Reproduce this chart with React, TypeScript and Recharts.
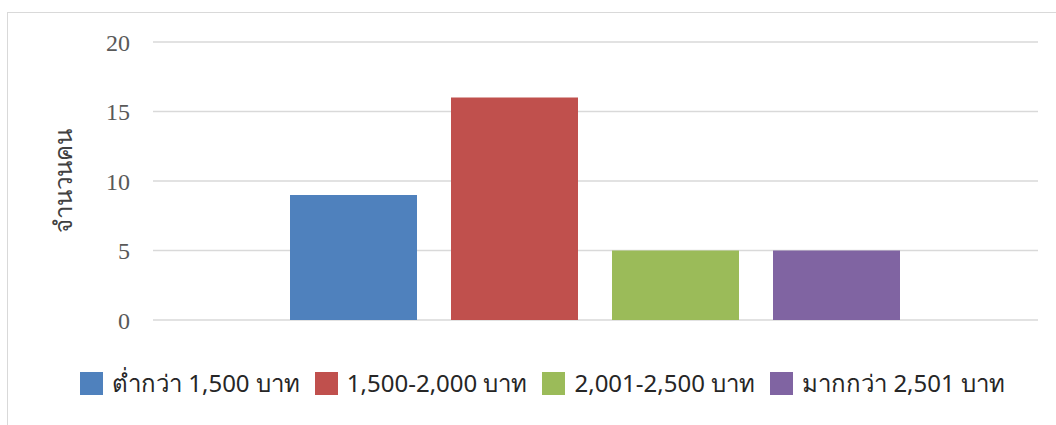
import React from "react";
import { BarChart, Bar, XAxis, YAxis, CartesianGrid, Legend } from "recharts";

const categories = ["จำนวนคน"];
const seriesNames = ["ต่ำกว่า 1,500 บาท", "1,500-2,000 บาท", "2,001-2,500 บาท", "มากกว่า 2,501 บาท"];
const seriesValues = [9, 16, 5, 5];
const seriesColors = ["#4F81BD", "#C0504D", "#9BBB59", "#8064A2"];
const yTicks = [0, 5, 10, 15, 20];
const yLabel = "จำนวนคน";

const data = categories.map((c) => {
  const row: Record<string, string | number> = { name: c };
  seriesNames.forEach((s, i) => {
    row["s" + i] = seriesValues[i];
  });
  return row;
});

const sansFont = "'Noto Sans', 'DejaVu Sans', sans-serif";

const LegendContent = () => (
  <div
    style={{
      display: "flex",
      alignItems: "center",
      paddingLeft: 80,
      fontFamily: sansFont,
      fontSize: 24,
      fontWeight: 400,
      color: "#262626",
      whiteSpace: "nowrap",
      height: 34,
    }}
  >
    {seriesNames.map((s, i) => (
      <div key={s} style={{ display: "flex", alignItems: "center", marginRight: 15 }}>
        <span style={{ display: "inline-block", width: 23, height: 23, background: seriesColors[i], marginRight: 9 }} />
        <span>{s}</span>
      </div>
    ))}
  </div>
);

const YLabel = (props: any) => {
  const vb = props.viewBox || {};
  const cx = vb.x - 11;
  const cy = vb.y + vb.height / 2;
  return (
    <text
      x={cx}
      y={cy}
      transform={`rotate(-90, ${cx}, ${cy})`}
      textAnchor="middle"
      dominantBaseline="central"
      fontFamily={sansFont}
      fontSize={24}
      fill="#404040"
    >
      {yLabel}
    </text>
  );
};

export default function App() {
  return (
    <div style={{ position: "absolute", left: 0, top: 0, width: 1056, height: 425, overflow: "hidden", background: "#fff" }}>
      <div
        style={{
          position: "absolute",
          left: 7,
          top: 12,
          width: 1200,
          height: 600,
          border: "1px solid #d9d9d9",
        }}
      />
      <BarChart
        width={1056}
        height={425}
        data={data}
        margin={{ top: 42, right: 18, bottom: 71, left: 73 }}
        barCategoryGap={137}
        barGap={34}
      >
        <CartesianGrid vertical={false} stroke="#d9d9d9" strokeWidth={1.5} />
        <XAxis dataKey="name" hide />
        <YAxis
          width={80}
          domain={[0, 20]}
          ticks={yTicks}
          axisLine={false}
          tickLine={false}
          tickMargin={17}
          tick={{ fontFamily: "'Liberation Serif', serif", fontSize: 24, fill: "#595959" }}
          label={{ content: YLabel }}
        />
        <Legend
          verticalAlign="bottom"
          content={LegendContent}
          wrapperStyle={{ position: "absolute", top: 366, left: 0, width: 1056, height: 34 }}
        />
        {seriesNames.map((s, i) => (
          <Bar key={s} dataKey={"s" + i} name={s} fill={seriesColors[i]} isAnimationActive={false} />
        ))}
      </BarChart>
    </div>
  );
}
